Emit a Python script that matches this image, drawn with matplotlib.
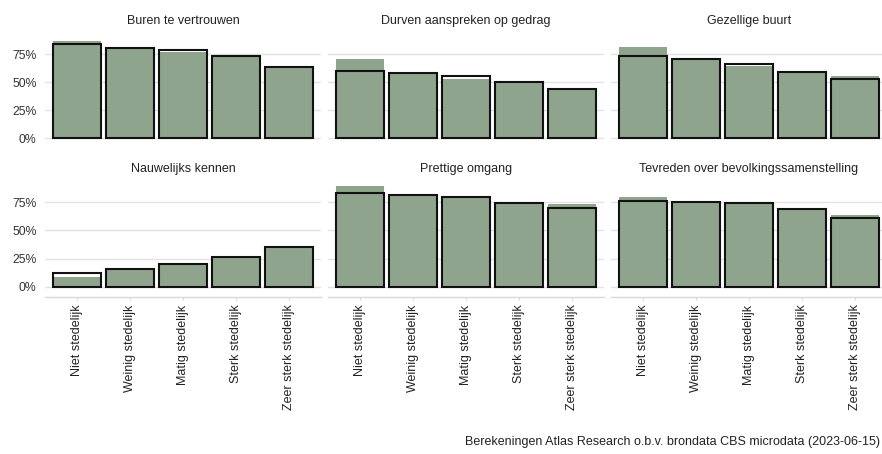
import matplotlib.pyplot as plt
import numpy as np

plt.rcParams['font.family'] = ['Liberation Sans', 'DejaVu Sans']

# Data (percentages)
categories = ['Niet stedelijk', 'Weinig stedelijk', 'Matig stedelijk',
              'Sterk stedelijk', 'Zeer sterk stedelijk']
titles = ['Buren te vertrouwen', 'Durven aanspreken op gedrag', 'Gezellige buurt',
          'Nauwelijks kennen', 'Prettige omgang', 'Tevreden over bevolkingssamenstelling']

buren_fill = [86.8, 80.0, 76.5, 73.0, 63.2]
buren_line = [83.6, 80.0, 78.3, 73.0, 63.2]
durven_fill = [70.3, 58.1, 53.0, 50.1, 44.2]
durven_line = [60.2, 58.1, 55.5, 50.1, 44.2]
gezellig_fill = [80.9, 70.3, 64.3, 59.3, 55.5]
gezellig_line = [73.2, 70.3, 65.8, 59.3, 52.8]
kennen_fill = [8.4, 15.5, 20.3, 26.5, 35.2]
kennen_line = [12.0, 15.5, 20.3, 26.5, 35.2]
prettig_fill = [89.3, 81.6, 79.8, 74.5, 73.8]
prettig_line = [83.4, 81.6, 79.8, 74.5, 69.6]
tevreden_fill = [79.8, 75.0, 74.5, 68.8, 63.4]
tevreden_line = [75.9, 75.0, 74.5, 68.8, 61.3]

fills = [buren_fill, durven_fill, gezellig_fill, kennen_fill, prettig_fill, tevreden_fill]
lines = [buren_line, durven_line, gezellig_line, kennen_line, prettig_line, tevreden_line]

yticks = [0, 25, 50, 75]
ytick_labels = ['0%', '25%', '50%', '75%']

green = '#8fa48d'
grid = '#e3e3e3'

W, H = 882, 454
fig = plt.figure(figsize=(W / 100, H / 100), dpi=100)

# panel geometry in pixels
lefts = [45, 328, 611]
pw = 276
bottoms = [148.6, 296.8]
ph = 114.75

x = np.arange(len(categories))
for i, title in enumerate(titles):
    r, c = divmod(i, 3)
    ax = fig.add_axes([lefts[c] / W, (H - bottoms[r]) / H, pw / W, ph / H])
    ax.bar(x, fills[i], width=0.9, color=green, zorder=2)
    ax.bar(x, lines[i], width=0.9, facecolor='none', edgecolor='#111111',
           linewidth=1.5, zorder=3)
    ax.set_xlim(-0.6, 4.6)
    ax.set_ylim(-9, 93)
    ax.set_yticks(yticks)
    ax.yaxis.grid(True, color=grid, linewidth=1.0, zorder=0)
    ax.set_axisbelow(True)
    for s in ax.spines.values():
        s.set_visible(False)
    ax.set_title(title, fontsize=9.0, color='#222222', pad=7)
    if c == 0:
        ax.set_yticklabels(ytick_labels, fontsize=8.8, color='#333333')
        ax.tick_params(axis='y', length=0, pad=6)
    else:
        ax.tick_params(axis='y', length=0, labelleft=False)
    ax.set_xticks(x)
    if r == 1:
        ax.spines['bottom'].set_visible(True)
        ax.spines['bottom'].set_color('#d9d9d9')
        ax.spines['bottom'].set_linewidth(1.0)
        ax.set_xticklabels(categories, rotation=90, fontsize=9.0, color='#222222')
        ax.tick_params(axis='x', length=2.5, width=0.8, color='#d9d9d9', pad=3)
    else:
        ax.tick_params(axis='x', length=0, labelbottom=False)

fig.text(880 / W, 1 - 442 / H, 'Berekeningen Atlas Research o.b.v. brondata CBS microdata (2023-06-15)',
         ha='right', va='center', fontsize=9.0, color='#222222')

fig.savefig('out.png', dpi=100, facecolor='white')
